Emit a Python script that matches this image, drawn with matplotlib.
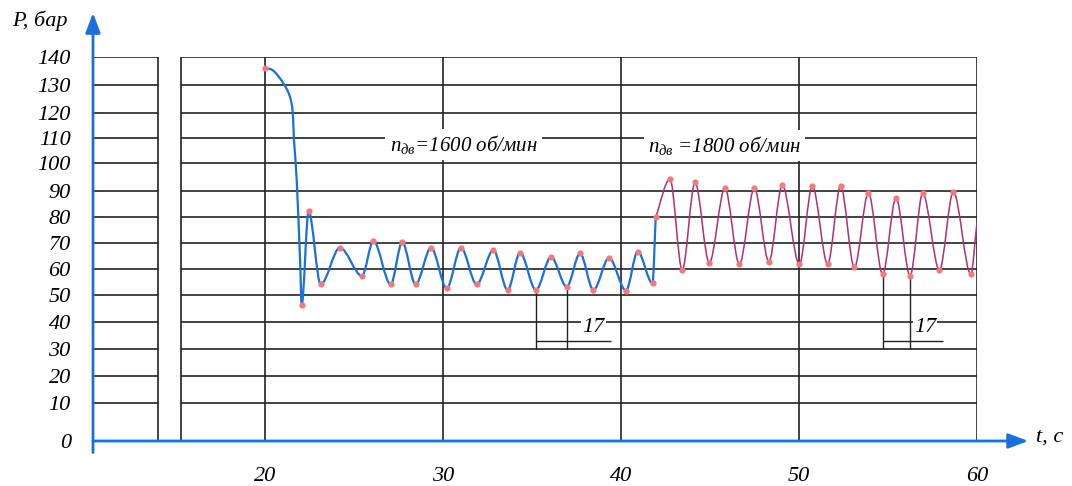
import numpy as np
import matplotlib
matplotlib.use('Agg')
import matplotlib.pyplot as plt
from matplotlib.path import Path
from matplotlib.patches import PathPatch

plt.rcParams['font.family'] = 'Liberation Serif'
plt.rcParams['font.style'] = 'italic'
plt.rcParams['mathtext.fontset'] = 'custom'
plt.rcParams['mathtext.it'] = 'Liberation Serif:italic'
plt.rcParams['mathtext.rm'] = 'Liberation Serif:italic'

# pressure grid (the drawing has uneven spacing between grid rows)
grid_vals = [0, 10, 20, 30, 40, 50, 60, 70, 80, 90, 100, 110, 120, 130, 140]
grid_h = [0, 38, 65, 92, 119, 146, 172, 198, 224, 250, 278, 303, 328, 356, 384]
x_ticks = [20, 30, 40, 50, 60]

# n = 1600 rpm (blue)
blue_t = [20.0, 20.47, 21.03, 21.40, 21.56, 21.63, 21.78, 21.97, 22.06, 22.45,
          23.13, 24.21, 25.45, 26.09, 27.06, 27.71, 28.46, 29.33, 30.21, 31.01,
          31.89, 32.83, 33.63, 34.33, 35.22, 36.07, 36.95, 37.70, 38.45, 39.33,
          40.28, 40.94, 41.77, 41.95]
blue_p = [136.1, 135.1, 130.6, 125.8, 120.0, 109.0, 94.0, 63.5, 46.3, 82.3,
          54.1, 68.2, 57.4, 70.8, 54.1, 70.3, 54.1, 68.2, 52.6, 68.2,
          54.1, 67.3, 51.9, 66.3, 51.9, 64.7, 53.2, 66.0, 51.9, 64.3,
          51.7, 66.7, 54.5, 80.0]

# n = 1800 rpm (magenta)
red_t = [41.95, 42.75, 43.44, 44.16, 44.96, 45.84, 46.65, 47.49, 48.31, 49.06,
         50.02, 50.75, 51.61, 52.34, 53.11, 53.90, 54.70, 55.45, 56.24, 56.95,
         57.89, 58.67, 59.65, 60.0]
red_p = [80.0, 94.3, 59.6, 93.1, 62.4, 91.0, 61.8, 91.0, 62.8, 92.1,
         61.8, 91.8, 61.9, 91.8, 60.6, 89.3, 58.0, 87.4, 57.4, 89.1,
         59.6, 89.7, 58.1, 78.0]

period_t = [(35.22, 36.95), (54.70, 56.24)]
period_label = '17'

grid_color = '#222222'
blue = '#1a6fdc'
magenta = '#b03070'
dot = '#f27a7a'


def fwd(v):
    return np.interp(v, grid_vals, grid_h)


def inv(h):
    return np.interp(h, grid_h, grid_vals)


def smooth(t, p):
    t = np.asarray(t, float)
    p = np.asarray(p, float)
    n = len(t)
    m = np.zeros(n)
    ext = np.zeros(n, bool)
    for i in range(n):
        if i == 0:
            m[i] = (p[1] - p[0]) / (t[1] - t[0])
        elif i == n - 1:
            m[i] = (p[i] - p[i - 1]) / (t[i] - t[i - 1])
        elif (p[i] - p[i - 1]) * (p[i + 1] - p[i]) <= 0:
            m[i] = 0
            ext[i] = True
        else:
            m[i] = (p[i + 1] - p[i - 1]) / (t[i + 1] - t[i - 1])
    verts = [(t[0], p[0])]
    codes = [Path.MOVETO]
    for i in range(n - 1):
        dt = t[i + 1] - t[i]
        verts += [(t[i] + dt / 3, p[i] + m[i] * dt / 3),
                  (t[i + 1] - dt / 3, p[i + 1] - m[i + 1] * dt / 3),
                  (t[i + 1], p[i + 1])]
        codes += [Path.CURVE4] * 3
    ext[0] = True
    return Path(verts, codes), ext


fig = plt.figure(figsize=(10.72, 4.86), dpi=100)
ax = fig.add_axes([93 / 1072, 1 - 441 / 486, 884 / 1072, 384 / 486])
ax.set_yscale('function', functions=(fwd, inv))
ax.set_xlim(20 - 172 / 17.8, 60)
ax.set_ylim(0, 140)
for s in ax.spines.values():
    s.set_visible(False)

brk = [(158 - 93) / 884, (181 - 93) / 884]
ax.hlines(grid_vals[1:], 0, brk[0], transform=ax.get_yaxis_transform(),
          colors=grid_color, lw=1.2, zorder=1)
ax.hlines(grid_vals[1:], brk[1], 1, transform=ax.get_yaxis_transform(),
          colors=grid_color, lw=1.2, zorder=1)
ax.vlines(x_ticks, 0, 140, colors=grid_color, lw=1.2, zorder=1)
ax.vlines(brk, 0, 1, transform=ax.transAxes, colors=grid_color, lw=1.2, zorder=1)

ax.set_xticks(x_ticks)
ax.set_yticks(grid_vals)
ax.tick_params(axis='x', length=0, labelsize=16, pad=19)
ax.tick_params(axis='y', length=0, labelsize=16, pad=16)

# axes arrows
arw = dict(arrowstyle='-|>,head_length=0.8,head_width=0.3', color=blue,
           lw=2, mutation_scale=15, shrinkA=0, shrinkB=0)
ax.annotate('', xy=(0, 1.115), xytext=(0, -0.03), xycoords='axes fraction',
            arrowprops=arw, annotation_clip=False)
ax.annotate('', xy=(1.058, 0), xytext=(0, 0), xycoords='axes fraction',
            arrowprops=arw, annotation_clip=False)
fig.text(12 / 1072, 1 - 21 / 486, 'P, бар', fontsize=16, va='center', ha='left')
fig.text(1036 / 1072, 1 - 437 / 486, 't, с', fontsize=16, va='center', ha='left')

# curves
for t, p, c, lw in [(blue_t, blue_p, blue, 1.6), (red_t, red_p, magenta, 1.1)]:
    path, ext = smooth(t, p)
    ax.add_patch(PathPatch(path, fc='none', ec=c, lw=lw, zorder=3))
    ax.plot(np.asarray(t)[ext], np.asarray(p)[ext], 'o', ms=4.5,
            color=dot, mec='none', zorder=4)

# speed labels
box = dict(fc='white', ec='none', pad=3)
ax.text(27.0, 107.5, r'$n_{дв}$=1600 об/мин', fontsize=15, va='center',
        bbox=box, zorder=5)
ax.text(41.5, 107.0, r'$n_{дв}$ =1800 об/мин', fontsize=15, va='center',
        bbox=box, zorder=5)

# period leaders
lookup = dict(zip(blue_t + red_t, blue_p + red_p))
for (ta, tb), tx in zip(period_t, [38.43, 57.08]):
    ax.vlines([ta, tb], 30, [lookup[ta], lookup[tb]], colors=grid_color,
              lw=1.0, zorder=2)
    ax.hlines(33.0, ta, tx + 1.0, colors=grid_color, lw=1.0, zorder=2)
    ax.text(tx, 37.8, period_label, fontsize=16, ha='center', va='center',
            bbox=dict(fc='white', ec='none', pad=1), zorder=5)

fig.savefig('out.png', dpi=100)
